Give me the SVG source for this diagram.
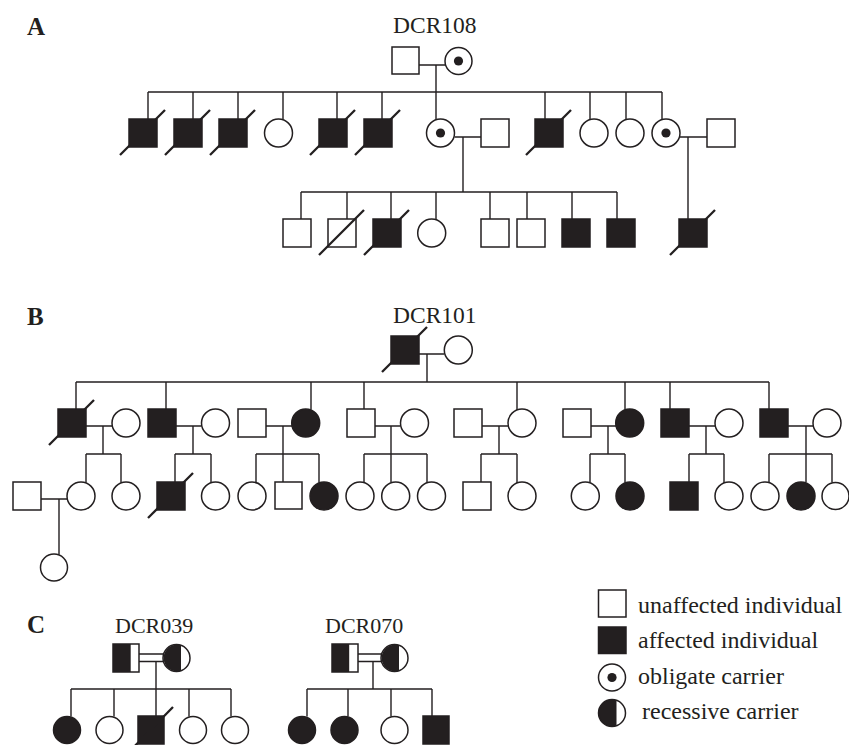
<svg xmlns="http://www.w3.org/2000/svg" width="849" height="745" viewBox="0 0 849 745">
<style>
.u{fill:#fff;stroke:#231f20;stroke-width:1.5}
.a{fill:#231f20;stroke:#231f20;stroke-width:1.5}
.k{fill:#231f20;stroke:none}
.ln{fill:none;stroke:#231f20;stroke-width:1.4}
.sl{stroke:#231f20;stroke-width:2.3;fill:none}
.lbl{font-family:"Liberation Serif","Times New Roman",serif;font-weight:bold;font-size:25px;fill:#231f20}
.id{font-family:"Liberation Serif","Times New Roman",serif;font-size:23.5px;fill:#231f20}
.idc{font-family:"Liberation Serif","Times New Roman",serif;font-size:22px;fill:#231f20}
.lg{font-family:"Liberation Serif","Times New Roman",serif;font-size:24px;fill:#231f20}
</style>
<rect width="849" height="745" fill="#fff"/>
<text class="lbl" x="27" y="35">A</text>
<text class="lbl" x="27" y="325">B</text>
<text class="lbl" x="27" y="633">C</text>
<text class="id" x="393" y="33">DCR108</text>
<text class="id" x="393" y="323">DCR101</text>
<text class="idc" x="115" y="633">DCR039</text>
<text class="idc" x="325" y="633">DCR070</text>

<g id="connectors">
<!-- Panel A -->
<path class="ln" d="M419 65H445M436 65V92M148 92H662"/>
<path class="ln" d="M148 92V119M193 92V119M238 92V119M283 92V119M337 92V119M382 92V119M436 92V119.5M545 92V119M590 92V119.5M626 92V119.5M662 92V119.5"/>
<path class="ln" d="M454.5 137H481M463 137V192M680 137H707M688 137V219"/>
<path class="ln" d="M301 192H617M301 192V219M347 192V219M391 192V219M436 192V219.5M463 192V192M490 192V219M527 192V219M572 192V219M617 192V219"/>
<!-- Panel B -->
<path class="ln" d="M419 354H444.5M427 354V382M76 382H769"/>
<path class="ln" d="M76 382V409M166 382V409M311 382V409.5M364 382V409M517 382V410M625 382V409.5M670 382V409M769 382V409"/>
<path class="ln" d="M86 426H112M103 426V454M176 426H201.5M193 426V454M266 426H292M283 426V482M375 426H400.5M391 426V482M482 426H508M499 426V454M591 426H616M608 426V454M689 426H715M706 426V454M788 426H813M806 426V482"/>
<path class="ln" d="M86 454H121M86 454V482.5M121 454V482.5"/>
<path class="ln" d="M175 454H211M175 454V482M211 454V482.5"/>
<path class="ln" d="M256 454H319M256 454V482.5M319 454V482.5"/>
<path class="ln" d="M364 454H427M364 454V482.5M427 454V482.5"/>
<path class="ln" d="M481 454H517M481 454V482M517 454V483"/>
<path class="ln" d="M590 454H625M590 454V482.5M625 454V482.5"/>
<path class="ln" d="M689 454H724M689 454V482M724 454V483"/>
<path class="ln" d="M769 454H832M769 454V482.5M832 454V482.5"/>
<path class="ln" d="M41 499H67.5M59 499V554.5"/>
<!-- Panel C -->
<path class="ln" d="M139 654H164M139 661.5H164M156 661.5V689M71 689H231M71 689V716.5M114 689V716.5M156 689V716M189 689V716.5M231 689V716.5"/>
<path class="ln" d="M358 654H381M358 661.5H381M373 661.5V689M307 689H432M307 689V716.5M348 689V716.5M391 689V716.5M432 689V716"/>
</g>

<!-- Panel A nodes -->
<g id="A-I-1"><rect class="u" x="392" y="47" width="27" height="27"/></g>
<g id="A-I-2"><circle class="u" cx="458.5" cy="61" r="13.5"/><circle class="k" cx="458.5" cy="61" r="4.6"/></g>
<g id="A-II-1"><rect class="a" x="129" y="119" width="28" height="28"/><line class="sl" x1="120" y1="155" x2="165" y2="110"/></g>
<g id="A-II-2"><rect class="a" x="174" y="119" width="28" height="28"/><line class="sl" x1="165" y1="155" x2="210" y2="110"/></g>
<g id="A-II-3"><rect class="a" x="219" y="119" width="28" height="28"/><line class="sl" x1="210" y1="155" x2="255" y2="110"/></g>
<g id="A-II-4"><circle class="u" cx="278.5" cy="133" r="14"/></g>
<g id="A-II-5"><rect class="a" x="319" y="119" width="28" height="28"/><line class="sl" x1="310" y1="155" x2="355" y2="110"/></g>
<g id="A-II-6"><rect class="a" x="364" y="119" width="28" height="28"/><line class="sl" x1="355" y1="155" x2="400" y2="110"/></g>
<g id="A-II-7"><circle class="u" cx="440.5" cy="133" r="14"/><circle class="k" cx="440.5" cy="133" r="4.6"/></g>
<g id="A-II-8"><rect class="u" x="481" y="119" width="28" height="28"/></g>
<g id="A-II-9"><rect class="a" x="535" y="119" width="28" height="28"/><line class="sl" x1="526" y1="155" x2="571" y2="110"/></g>
<g id="A-II-10"><circle class="u" cx="594" cy="133" r="14"/></g>
<g id="A-II-11"><circle class="u" cx="630" cy="133" r="14"/></g>
<g id="A-II-12"><circle class="u" cx="666" cy="133" r="14"/><circle class="k" cx="666" cy="133" r="4.6"/></g>
<g id="A-II-13"><rect class="u" x="707" y="119" width="28" height="28"/></g>
<g id="A-III-1"><rect class="u" x="283" y="219" width="28" height="28"/></g>
<g id="A-III-2"><rect class="u" x="328" y="219" width="28" height="28"/><line class="sl" x1="319" y1="255" x2="364" y2="210"/></g>
<g id="A-III-3"><rect class="a" x="373" y="219" width="28" height="28"/><line class="sl" x1="364" y1="255" x2="409" y2="210"/></g>
<g id="A-III-4"><circle class="u" cx="431.7" cy="233" r="14"/></g>
<g id="A-III-5"><rect class="u" x="481" y="219" width="28" height="28"/></g>
<g id="A-III-6"><rect class="u" x="517" y="219" width="28" height="28"/></g>
<g id="A-III-7"><rect class="a" x="562" y="219" width="28" height="28"/></g>
<g id="A-III-8"><rect class="a" x="607" y="219" width="28" height="28"/></g>
<g id="A-III-9"><rect class="a" x="679" y="219" width="28" height="28"/><line class="sl" x1="670" y1="255" x2="715" y2="210"/></g>

<!-- Panel B nodes -->
<g id="B-I-1"><rect class="a" x="391" y="336" width="28" height="28"/><line class="sl" x1="382" y1="372" x2="427" y2="327"/></g>
<g id="B-I-2"><circle class="u" cx="458.3" cy="350" r="14"/></g>
<g id="B-II-1"><rect class="a" x="58" y="409" width="28" height="28"/><line class="sl" x1="49" y1="445" x2="94" y2="400"/></g>
<g id="B-II-2"><circle class="u" cx="126" cy="423" r="14"/></g>
<g id="B-II-3"><rect class="a" x="148" y="409" width="28" height="28"/></g>
<g id="B-II-4"><circle class="u" cx="215.5" cy="423" r="14"/></g>
<g id="B-II-5"><rect class="u" x="238" y="409" width="28" height="28"/></g>
<g id="B-II-6"><circle class="a" cx="305.7" cy="423" r="14"/></g>
<g id="B-II-7"><rect class="u" x="347" y="409" width="28" height="28"/></g>
<g id="B-II-8"><circle class="u" cx="414.5" cy="423" r="14"/></g>
<g id="B-II-9"><rect class="u" x="454" y="409" width="28" height="28"/></g>
<g id="B-II-10"><circle class="u" cx="522" cy="423" r="14"/></g>
<g id="B-II-11"><rect class="u" x="563" y="409" width="28" height="28"/></g>
<g id="B-II-12"><circle class="a" cx="629.7" cy="423" r="14"/></g>
<g id="B-II-13"><rect class="a" x="661" y="409" width="28" height="28"/></g>
<g id="B-II-14"><circle class="u" cx="729" cy="423" r="14"/></g>
<g id="B-II-15"><rect class="a" x="760" y="409" width="28" height="28"/></g>
<g id="B-II-16"><circle class="u" cx="827" cy="423" r="14"/></g>
<g id="B-III-1"><rect class="u" x="13" y="482" width="28" height="28"/></g>
<g id="B-III-2"><circle class="u" cx="81" cy="496" r="14"/></g>
<g id="B-III-3"><circle class="u" cx="126" cy="496" r="14"/></g>
<g id="B-III-4"><rect class="a" x="157" y="482" width="28" height="28"/><line class="sl" x1="148" y1="518" x2="193" y2="473"/></g>
<g id="B-III-5"><circle class="u" cx="215.5" cy="496" r="14"/></g>
<g id="B-III-6"><circle class="u" cx="252" cy="496" r="14"/></g>
<g id="B-III-7"><rect class="u" x="275" y="482" width="27" height="27"/></g>
<g id="B-III-8"><circle class="a" cx="324" cy="496" r="14"/></g>
<g id="B-III-9"><circle class="u" cx="360" cy="496" r="14"/></g>
<g id="B-III-10"><circle class="u" cx="395.7" cy="496" r="14"/></g>
<g id="B-III-11"><circle class="u" cx="431.5" cy="496" r="14"/></g>
<g id="B-III-12"><rect class="u" x="463" y="482" width="28" height="28"/></g>
<g id="B-III-13"><circle class="u" cx="522" cy="496" r="14"/></g>
<g id="B-III-14"><circle class="u" cx="585.3" cy="496" r="14"/></g>
<g id="B-III-15"><circle class="a" cx="630" cy="496" r="14"/></g>
<g id="B-III-16"><rect class="a" x="670" y="482" width="28" height="28"/></g>
<g id="B-III-17"><circle class="u" cx="729" cy="496" r="14"/></g>
<g id="B-III-18"><circle class="u" cx="765" cy="496" r="14"/></g>
<g id="B-III-19"><circle class="a" cx="801" cy="496" r="14"/></g>
<g id="B-III-20"><circle class="u" cx="835.5" cy="496" r="13.5"/></g>
<g id="B-IV-1"><circle class="u" cx="54" cy="567.5" r="13.5"/></g>

<!-- Panel C nodes -->
<g id="C1-I-1"><rect class="k" x="113" y="644" width="17" height="28"/><rect x="113" y="644" width="26" height="28" fill="none" stroke="#231f20" stroke-width="1.5"/><line class="ln" x1="130" y1="644" x2="130" y2="672"/></g>
<g id="C1-I-2"><path class="k" d="M181 645.1A13.5 13.5 0 1 0 181 670.9Z"/><circle cx="176.5" cy="658" r="13.5" fill="none" stroke="#231f20" stroke-width="1.5"/></g>
<g id="C1-II-1"><circle class="a" cx="67" cy="730" r="13.5"/></g>
<g id="C1-II-2"><circle class="u" cx="109.5" cy="730" r="13.5"/></g>
<g id="C1-II-3"><rect class="a" x="138" y="716" width="26" height="28"/><line class="sl" x1="129" y1="752" x2="173" y2="707"/></g>
<g id="C1-II-4"><circle class="u" cx="193" cy="730" r="13.5"/></g>
<g id="C1-II-5"><circle class="u" cx="235" cy="730" r="13.5"/></g>
<g id="C2-I-1"><rect class="k" x="332" y="644" width="16.5" height="28"/><rect x="332" y="644" width="26" height="28" fill="none" stroke="#231f20" stroke-width="1.5"/><line class="ln" x1="348.5" y1="644" x2="348.5" y2="672"/></g>
<g id="C2-I-2"><path class="k" d="M399 645.1A13.5 13.5 0 1 0 399 670.9Z"/><circle cx="394.5" cy="658" r="13.5" fill="none" stroke="#231f20" stroke-width="1.5"/></g>
<g id="C2-II-1"><circle class="a" cx="302" cy="730" r="13.5"/></g>
<g id="C2-II-2"><circle class="a" cx="344.5" cy="730" r="13.5"/></g>
<g id="C2-II-3"><circle class="u" cx="394.5" cy="730" r="13.5"/></g>
<g id="C2-II-4"><rect class="a" x="423" y="716" width="26" height="28"/></g>

<!-- Legend -->
<g id="legend">
<rect class="u" x="598.5" y="590" width="27.5" height="27"/>
<text class="lg" x="638" y="613">unaffected individual</text>
<rect class="a" x="598.5" y="627" width="27.5" height="26.5"/>
<text class="lg" x="638" y="648">affected individual</text>
<circle class="u" cx="612" cy="677.5" r="13.5"/><circle class="k" cx="612" cy="677.5" r="4.6"/>
<text class="lg" x="638" y="684">obligate carrier</text>
<path class="k" d="M616.5 700.3A13.5 13.5 0 1 0 616.5 725.7Z"/><circle cx="612" cy="713" r="13.5" fill="none" stroke="#231f20" stroke-width="1.5"/>
<text class="lg" x="642" y="719">recessive carrier</text>
</g>
</svg>
